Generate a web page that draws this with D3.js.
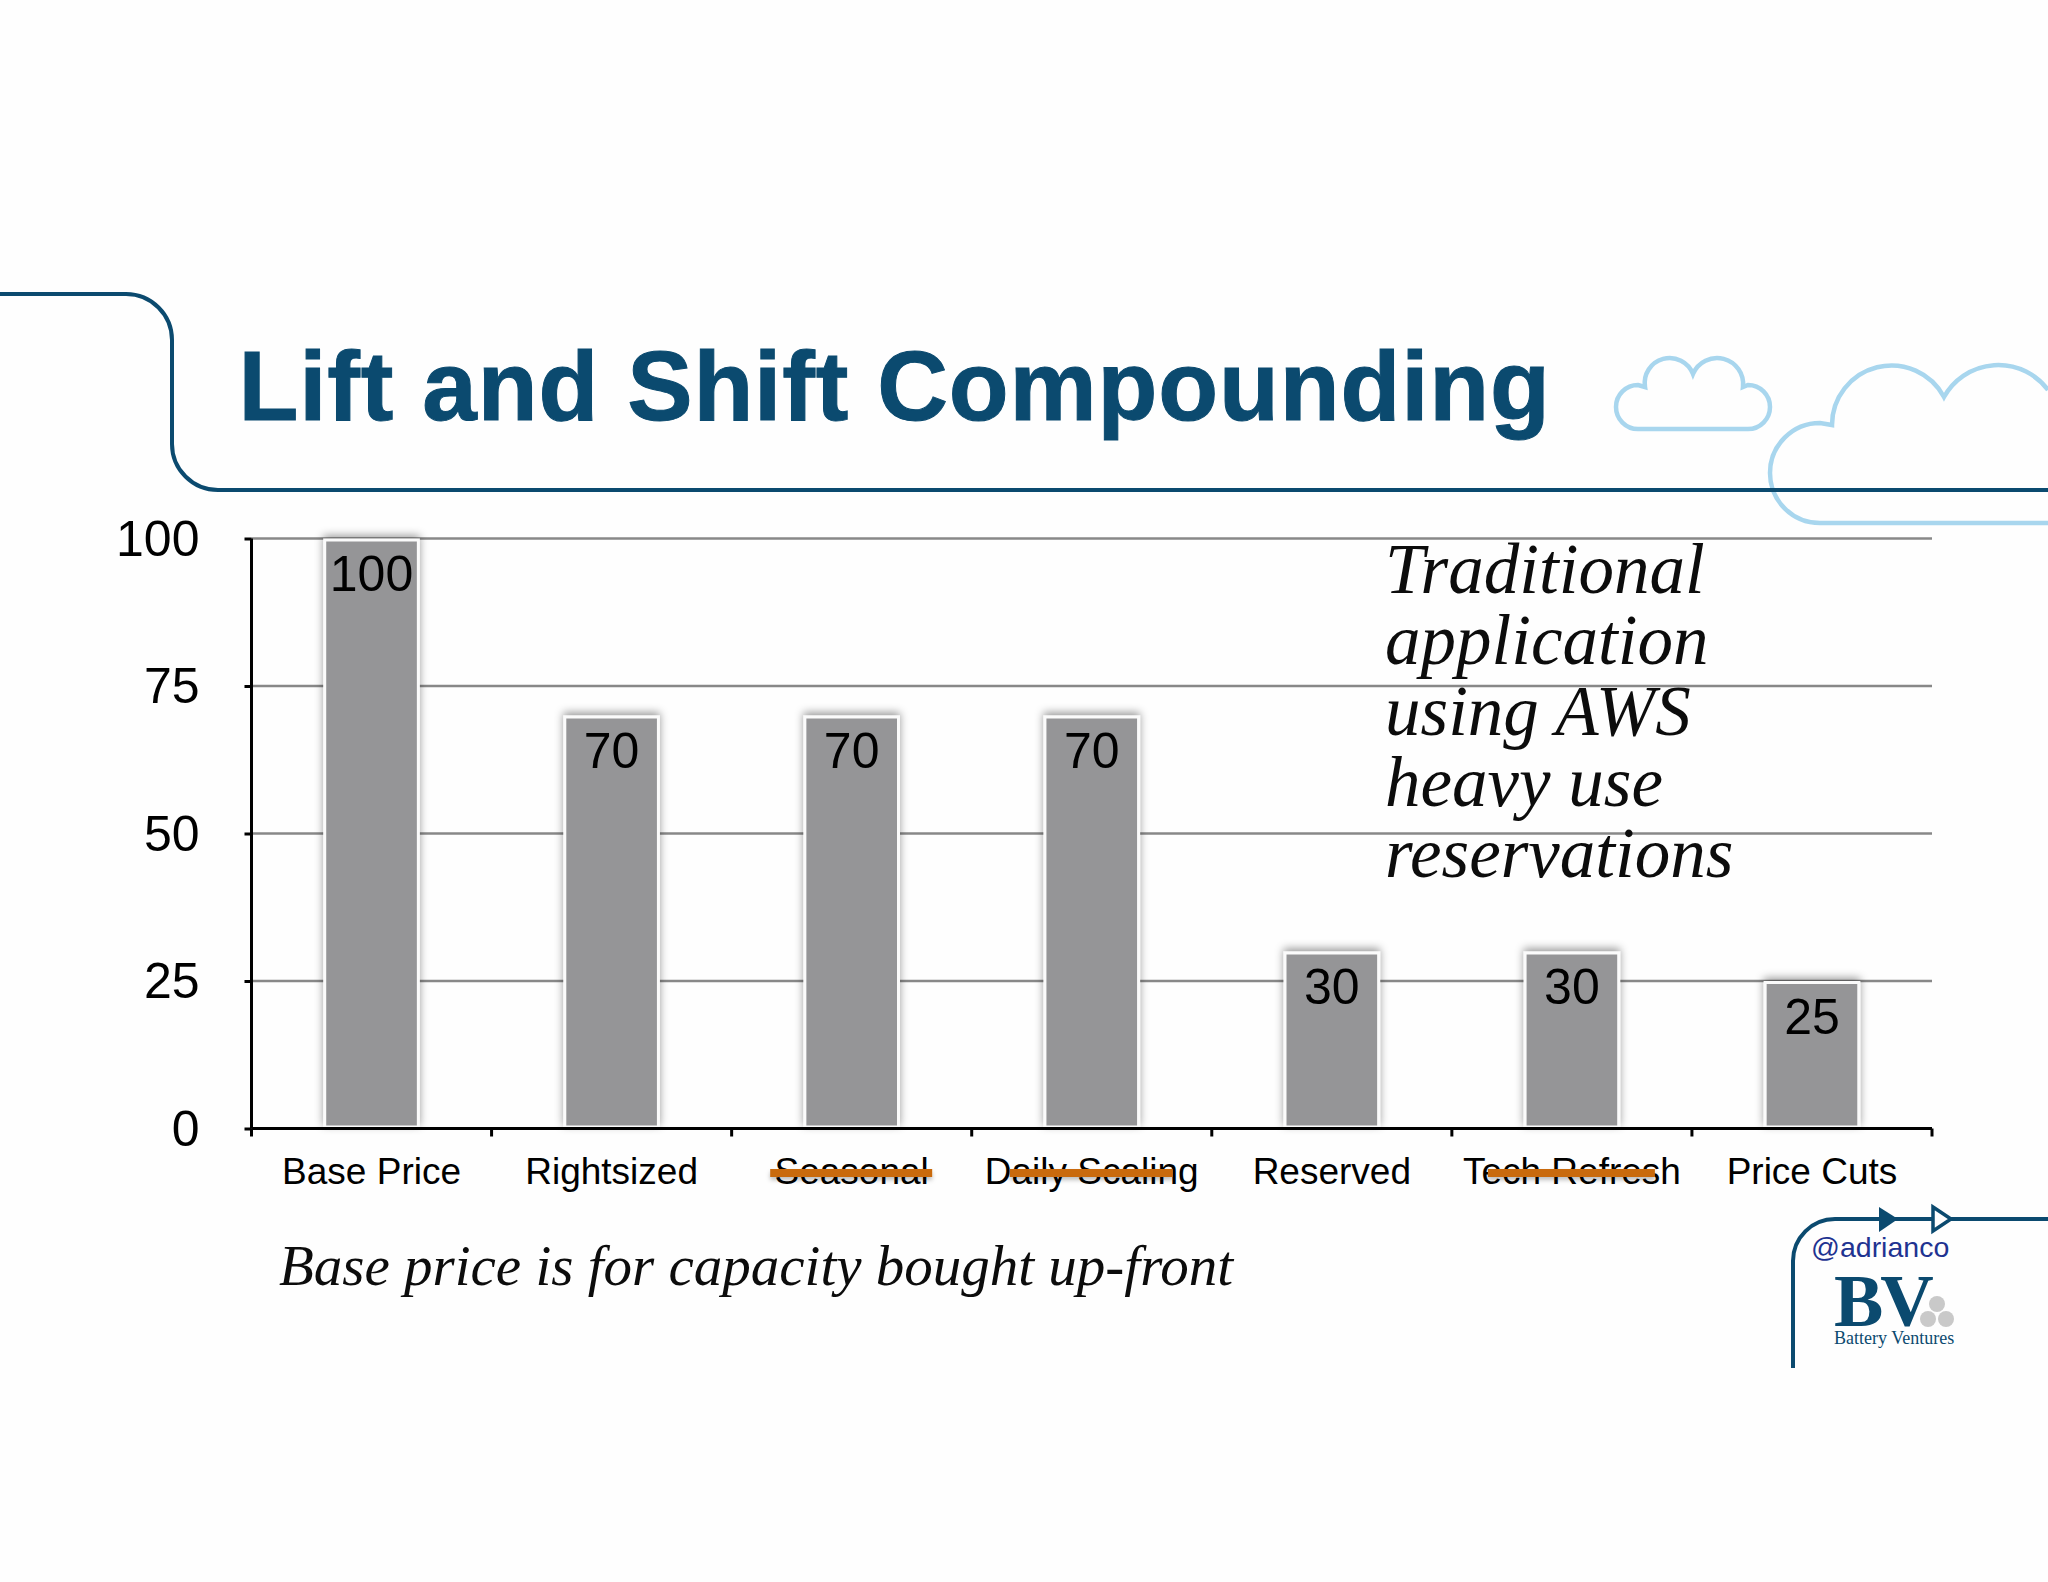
<!DOCTYPE html>
<html>
<head>
<meta charset="utf-8">
<script src="https://cdn.jsdelivr.net/npm/d3@7.9.0/dist/d3.min.js"></script>
<style>
  html, body { margin: 0; padding: 0; background: #fefefe; }
  svg { display: block; }
  text { font-family: "Liberation Sans", Arial, sans-serif; fill: #000; }
  .serif { font-family: "Liberation Serif", Georgia, serif; font-style: italic; fill: #0c0c0c; }
  .frame { fill: none; stroke: #0b4a6f; stroke-width: 4; }
  .cloud { fill: none; stroke: #a8d6ee; stroke-width: 4.5; }
</style>
</head>
<body>
<script>
const categories = ['Base Price', 'Rightsized', 'Seasonal', 'Daily Scaling', 'Reserved', 'Tech Refresh', 'Price Cuts'];
const values = [100, 70, 70, 70, 30, 30, 25];
const yTicks = [0, 25, 50, 75, 100];
const struck = ['Seasonal', 'Daily Scaling', 'Tech Refresh'];
const noteLines = ['Traditional', 'application', 'using AWS', 'heavy use', 'reservations'];

const width = 2048;
const height = 1582;
const navy = '#0b4a6f';

const svg = d3.select('body').append('svg').attr('width', width).attr('height', height);

// bar and strike shadows
const defs = svg.append('defs');
defs.append('filter')
  .attr('id', 'barShadow')
  .attr('x', '-20%').attr('y', '-10%').attr('width', '140%').attr('height', '120%')
  .append('feDropShadow')
  .attr('dx', 0).attr('dy', -3).attr('stdDeviation', 4)
  .attr('flood-color', '#000').attr('flood-opacity', 0.4);
defs.append('filter')
  .attr('id', 'strikeShadow')
  .attr('x', '-5%').attr('y', '-100%').attr('width', '110%').attr('height', '300%')
  .append('feDropShadow')
  .attr('dx', 0).attr('dy', 3).attr('stdDeviation', 2)
  .attr('flood-color', '#000').attr('flood-opacity', 0.25);

svg.append('rect').attr('width', width).attr('height', height).attr('fill', '#fefefe');

// slide furniture
svg.append('path').attr('class', 'cloud')
  .attr('d', 'M1638,429 H1748 A22,22 0 0 0 1748,385 L1743,387 A26.1,26.1 0 0 0 1693,374 A25,25 0 0 0 1645,387 L1638,385 A22,22 0 0 0 1638,429 Z');
svg.append('path').attr('class', 'cloud')
  .attr('d', 'M2048,523 H1820 A50,50 0 0 1 1820,423 L1832,425 A59.5,59.5 0 0 1 1944,397 A62,62 0 0 1 2048,390');
svg.append('path').attr('class', 'frame')
  .attr('d', 'M0,294 H126 A46,46 0 0 1 172,340 V444 A46,46 0 0 0 218,490 H2048');

svg.append('text')
  .attr('x', 238.5).attr('y', 420)
  .attr('font-size', 98).attr('font-weight', 700)
  .attr('letter-spacing', 0.85)
  .attr('stroke', navy).attr('stroke-width', 1)
  .style('fill', navy)
  .text('Lift and Shift Compounding');

// scales
const x = d3.scaleBand().domain(categories).range([251.5, 1932]).paddingInner(0.61).paddingOuter(0.305);
const y = d3.scaleLinear().domain([0, 100]).range([1128.5, 538.5]);
const [xLeft, xRight] = x.range();

// gridlines
svg.append('g').selectAll('line')
  .data(yTicks.filter((d) => d > 0))
  .join('line')
  .attr('x1', xLeft).attr('x2', xRight)
  .attr('y1', (d) => y(d)).attr('y2', (d) => y(d))
  .attr('stroke', '#888').attr('stroke-width', 2.5);

// bars
const bars = svg.append('g').selectAll('g')
  .data(categories)
  .join('g');

bars.append('rect')
  .attr('x', (d) => x(d))
  .attr('width', x.bandwidth())
  .attr('y', (d, i) => y(values[i]) + 1.5)
  .attr('height', (d, i) => y(0) - y(values[i]) - 3)
  .attr('fill', '#959597')
  .attr('stroke', '#fbfbfb').attr('stroke-width', 3)
  .attr('filter', 'url(#barShadow)');

bars.append('text')
  .attr('x', (d) => x(d) + x.bandwidth() / 2)
  .attr('y', (d, i) => y(values[i]) + 52.5)
  .attr('text-anchor', 'middle')
  .attr('font-size', 50)
  .text((d, i) => values[i]);

// y axis
const yAxis = svg.append('g')
  .attr('transform', `translate(${xLeft},0)`)
  .call(d3.axisLeft(y).tickValues(yTicks).tickSize(7).tickPadding(45));
yAxis.selectAll('path, line').attr('stroke', '#000').attr('stroke-width', 3);
yAxis.selectAll('text').attr('font-family', null).attr('font-size', 50).attr('dy', '0.33em');
yAxis.select('.domain').attr('d', `M0,${y(100)} V${y(0)}`);

// x axis, ticks sit on the band edges
const xAxis = svg.append('g')
  .attr('transform', `translate(0,${y(0)})`)
  .call(d3.axisBottom(x).tickSize(0).tickPadding(22));
xAxis.select('.domain').attr('stroke', '#000').attr('stroke-width', 3).attr('d', `M${xLeft},0 H${xRight}`);
xAxis.selectAll('text').attr('font-size', 37).attr('dy', null).attr('y', 55.5);

const step = x.step();
svg.append('g').selectAll('line')
  .data(d3.range(categories.length + 1))
  .join('line')
  .attr('x1', (i) => xLeft + i * step).attr('x2', (i) => xLeft + i * step)
  .attr('y1', y(0)).attr('y2', y(0) + 8)
  .attr('stroke', '#000').attr('stroke-width', 3);

// strike-throughs over the crossed out labels
const strikeLengths = { 'Seasonal': 162, 'Daily Scaling': 163, 'Tech Refresh': 167 };
svg.append('g').selectAll('rect')
  .data(struck)
  .join('rect')
  .attr('x', (d) => x(d) + x.bandwidth() / 2 - strikeLengths[d] / 2 - 0.5)
  .attr('y', 1169)
  .attr('width', (d) => strikeLengths[d])
  .attr('height', 8)
  .attr('fill', '#c96a10')
  .attr('filter', 'url(#strikeShadow)');

// annotation text
svg.append('g').selectAll('text')
  .data(noteLines)
  .join('text')
  .attr('class', 'serif')
  .attr('x', 1385)
  .attr('y', (d, i) => 593 + i * 71)
  .attr('font-size', 71)
  .text((d) => d);

svg.append('text')
  .attr('class', 'serif')
  .attr('x', 279).attr('y', 1285)
  .attr('font-size', 57)
  .text('Base price is for capacity bought up-front');

// logo corner
svg.append('path').attr('class', 'frame')
  .attr('d', 'M1793,1368 V1261 A42,42 0 0 1 1835,1219 H2048');
svg.append('path').attr('fill', navy).attr('d', 'M1879,1207 L1898,1219 L1879,1232 Z');
svg.append('path').attr('fill', '#fefefe').attr('stroke', navy).attr('stroke-width', 3.5)
  .attr('d', 'M1933,1207 L1951,1219 L1933,1231 Z');

svg.append('text')
  .attr('x', 1811).attr('y', 1257)
  .attr('font-size', 28.5)
  .style('fill', '#1f3391')
  .text('@adrianco');
svg.append('text')
  .attr('x', 1834).attr('y', 1326)
  .attr('font-size', 74)
  .attr('font-weight', 700)
  .attr('letter-spacing', -3)
  .style('font-family', '"Liberation Serif", serif')
  .style('fill', navy)
  .text('BV');
svg.append('text')
  .attr('x', 1834).attr('y', 1344)
  .attr('font-size', 18)
  .style('font-family', '"Liberation Serif", serif')
  .style('fill', navy)
  .text('Battery Ventures');
svg.append('g').selectAll('circle')
  .data([[1937, 1304], [1928, 1319], [1946, 1319]])
  .join('circle')
  .attr('cx', (d) => d[0]).attr('cy', (d) => d[1]).attr('r', 8)
  .attr('fill', '#c9c9c9');
</script>
</body>
</html>
